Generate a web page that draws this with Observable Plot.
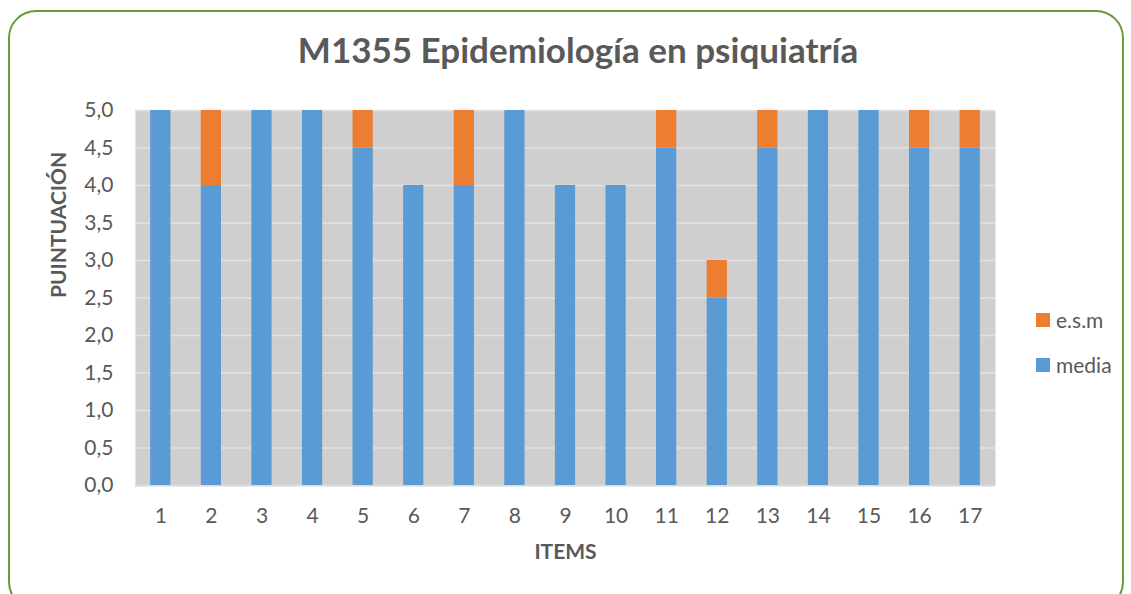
<!DOCTYPE html>
<html><head><meta charset="utf-8">
<script src="https://cdn.jsdelivr.net/npm/d3@7"></script>
<script src="https://cdn.jsdelivr.net/npm/@observablehq/plot@0.6"></script>
<style>
body{margin:0;background:#fff;font-family:Lato,"Open Sans",sans-serif;}
#wrap{position:relative;width:1131px;height:594px;overflow:hidden;}
#border{position:absolute;left:8px;top:10px;width:1116px;height:600px;border:2px solid #6a9a3a;border-radius:28px;box-sizing:border-box;}
#title{position:absolute;left:0;width:1156px;top:28px;text-align:center;font-weight:bold;font-size:35px;line-height:42px;color:#595959;}
#chart{position:absolute;left:0;top:0;}
.leg{position:absolute;left:1036px;font-size:21px;line-height:24px;color:#595959;display:flex;align-items:center;}
.leg span.sw{display:inline-block;width:14px;height:14px;margin-right:6px;}
</style></head>
<body><div id="wrap"><div id="border"></div><div id="title">M1355 Epidemiología en psiquiatría</div><div id="chart"></div>
<div class="leg" style="top:308px"><span class="sw" style="background:#ed7d31"></span>e.s.m</div>
<div class="leg" style="top:353px"><span class="sw" style="background:#5b9bd5"></span>media</div>
</div>
<script>
const items = ["1","2","3","4","5","6","7","8","9","10","11","12","13","14","15","16","17"];
const media = [5,4,5,5,4.5,4,4,5,4,4,4.5,2.5,4.5,5,5,4.5,4.5];
const esm = [0,1,0,0,0.5,0,1,0,0,0,0.5,0.5,0.5,0,0,0.5,0.5];
const seriesNames = ["media","e.s.m"];
const yTicks = [0,0.5,1,1.5,2,2.5,3,3.5,4,4.5,5];

const data = [];
items.forEach((it,i)=>{
  data.push({item:it, series:"media", value:media[i]});
  data.push({item:it, series:"e.s.m", value:esm[i]});
});
const fmt = d => d.toFixed(1).replace(".", ",");
const chart = Plot.plot({
  width:1131, height:594,
  marginLeft:135, marginRight:136, marginTop:110, marginBottom:109,
  style:{fontFamily:"Lato, 'Open Sans', sans-serif", fontSize:"21px", color:"#595959", background:"transparent"},
  x:{domain:items, paddingInner:0.6, paddingOuter:0.3, round:false, label:null},
  y:{domain:[0,5], label:null},
  color:{domain:seriesNames, range:["#5b9bd5","#ed7d31"]},
  marks:[
    Plot.frame({fill:"#d0cfcf", stroke:null}),
    Plot.gridY(yTicks,{stroke:"#e2e2e2", strokeOpacity:1, strokeWidth:1.5}),
    Plot.ruleY([0],{stroke:"#d9d9d9", strokeWidth:2}),
    Plot.barY(data,{x:"item", y:"value", fill:"series", order:seriesNames, inset:0}),
    Plot.axisY(yTicks,{tickFormat:fmt, tickSize:0, tickPadding:22, fontSize:21, fill:"#595959", label:null}),
    Plot.axisX({tickSize:0, tickPadding:23, fontSize:21, fill:"#595959", label:null}),
    Plot.text(["PUINTUACIÓN"],{frameAnchor:"left", dx:-76, rotate:-90, fontWeight:"bold", fontSize:21, fill:"#595959"}),
    Plot.text(["ITEMS"],{frameAnchor:"bottom", dy:73, fontWeight:"bold", fontSize:21, fill:"#595959"})
  ]
});
document.getElementById("chart").appendChild(chart);
</script></body></html>
